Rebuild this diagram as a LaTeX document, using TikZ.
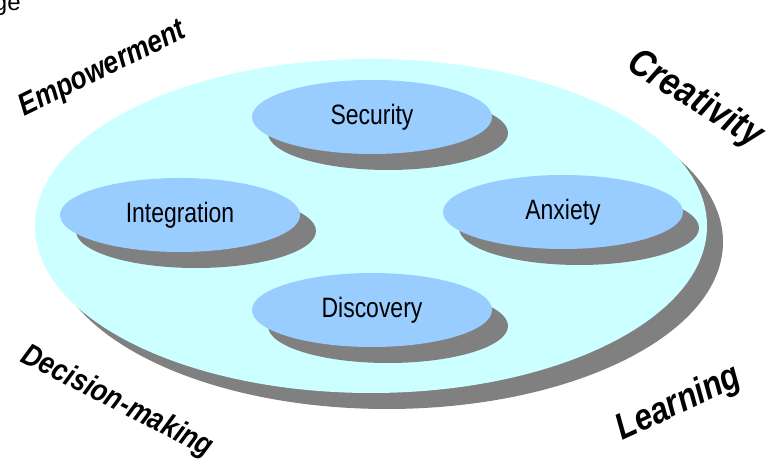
\documentclass[tikz,border=0pt]{standalone}
\usepackage{fontspec}
\setmainfont{Liberation Sans}
\newfontfamily\narrowfont[FakeStretch=0.82]{Liberation Sans}
\newfontfamily\tallfont[FakeStretch=0.85]{Liberation Sans}
\usepackage{tikz}
\usetikzlibrary{shapes.geometric}
\definecolor{paleCyan}{HTML}{CCFFFF}
\definecolor{skyBlue}{HTML}{99CCFF}
\definecolor{shadowGray}{HTML}{808080}

\begin{document}
\begin{tikzpicture}[x=1pt,y=1pt]
\tikzset{ inner sep=0pt, outer sep=0pt,
  plate/.style={ellipse, minimum width=672, minimum height=334},
  disc/.style={ellipse, minimum width=240, minimum height=74},
  inword/.style={font=\narrowfont\fontsize{28}{30}\selectfont},
  outword/.style={font=\tallfont\bfseries\itshape\fontsize{#1}{#1}\selectfont},
}

\useasboundingbox (0,0) rectangle (775,462);

% cut off text in the corner
\node [anchor=base west, font=\fontsize{24}{26}\selectfont] (ge) at (-6,451) {ge};

% big plate
\node [plate, fill=shadowGray] (mainS) at (387,220) {};
\node [plate, fill=paleCyan] (main) at (371,236) {};

% shadows
\node [disc, fill=shadowGray] (secS) at (388,329) {};
\node [disc, fill=shadowGray] (intS) at (196,231) {};
\node [disc, fill=shadowGray] (anxS) at (579,234) {};
\node [disc, fill=shadowGray] (disS) at (388,136) {};

% discs
\node [disc, fill=skyBlue, inword] (sec) at (372,345) {Security};
\node [disc, fill=skyBlue, inword] (int) at (180,247) {Integration};
\node [disc, fill=skyBlue, inword] (anx) at (563,250) {Anxiety};
\node [disc, fill=skyBlue, inword] (dis) at (372,152) {Discovery};

% words round the plate
\node [outword=31, rotate=26] (emp) at (103,392) {Empowerment};
\node [outword=39, rotate=-32] (cre) at (695,362) {Creativity};
\node [outword=31, rotate=-27] (dec) at (117,60) {Decision-making};
\node [outword=37, rotate=25] (lea) at (679,58) {Learning};

\end{tikzpicture}
\end{document}
